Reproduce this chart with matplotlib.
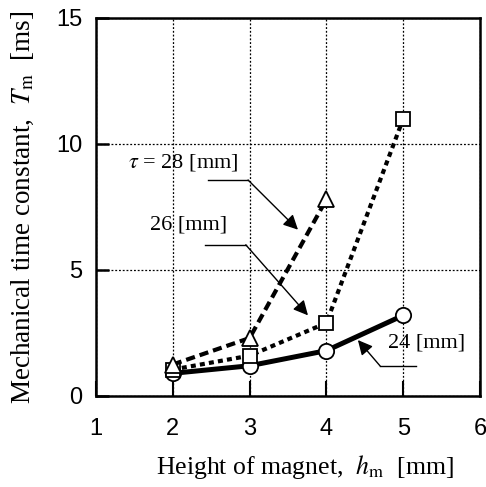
import numpy as np
import matplotlib.pyplot as plt

plt.rcParams['mathtext.fontset'] = 'stix'

# magnet height [mm] vs mechanical time constant [ms]
h_28 = [2, 3, 4]
T_28 = [1.25, 2.3, 7.8]
h_26 = [2, 3, 4, 5]
T_26 = [1.05, 1.6, 2.9, 11.0]
h_24 = [2, 3, 4, 5]
T_24 = [0.9, 1.2, 1.8, 3.2]

xticks = [1, 2, 3, 4, 5, 6]
yticks = [0, 5, 10, 15]

serif = ['Liberation Serif', 'DejaVu Serif']
sans = ['Liberation Sans', 'DejaVu Sans']

fig = plt.figure(figsize=(4.86, 4.87), dpi=100)
ax = fig.add_axes([96 / 486, 91 / 487, 384 / 486, 378 / 487])

ax.set_xlim(1, 6)
ax.set_ylim(0, 15)
ax.set_xticks(xticks)
ax.set_yticks(yticks)
ax.set_xticklabels([str(v) for v in xticks], family=sans, fontsize=17)
ax.set_yticklabels([str(v) for v in yticks], family=sans, fontsize=17)
ax.tick_params(axis='x', direction='in', length=11, width=1.5, pad=16)
ax.tick_params(axis='y', direction='in', length=9, width=1.8, pad=10)
for s in ax.spines.values():
    s.set_linewidth(1.8)

ax.grid(True, linestyle=(0, (1.5, 1.5)), color='black', linewidth=0.9)

# curves
ax.plot(h_24, T_24, '-', color='black', lw=3.6, marker='o', ms=11,
        mfc='white', mec='black', mew=1.3, zorder=3)
ax.plot(h_26, T_26, color='black', lw=3.0, linestyle=(0, (1.2, 1.0)),
        marker='s', ms=10, mfc='white', mec='black', mew=1.3, zorder=4)
ax.plot(h_28, T_28, color='black', lw=3.0, linestyle=(0, (2.2, 1.2)),
        marker='^', ms=11, mfc='white', mec='black', mew=1.3, zorder=5)

# annotations: leader line + arrow
def label(text, tx, ty, line, tip):
    ax.text(tx, ty, text, family=serif, fontsize=16, ha='left', va='center')
    ax.plot([line[0], line[1]], [line[2], line[2]], color='black', lw=1.0)
    ax.annotate('', xy=tip, xytext=(line[1], line[2]),
                arrowprops=dict(arrowstyle='-|>', color='black', lw=1.0,
                                mutation_scale=22, shrinkA=0, shrinkB=0))

label(r'$\tau$ = 28 [mm]', 1.42, 9.25, (2.46, 2.98, 8.57), (3.63, 6.6))
label('26 [mm]', 1.70, 6.8, (2.42, 2.95, 6.0), (3.76, 3.2))
label('24 [mm]', 4.80, 2.1, (5.17, 4.70, 1.19), (4.41, 2.22))

ax.set_xlabel(r'Height of magnet,  $h_\mathrm{m}$  [mm]', family=serif,
              fontsize=18.5)
ax.xaxis.set_label_coords(0.545, -0.15)
ax.set_ylabel(r'Mechanical time constant,  $T_\mathrm{m}$  [ms]',
              family=serif, fontsize=19.5, labelpad=14)

fig.savefig('out.png', dpi=100)
